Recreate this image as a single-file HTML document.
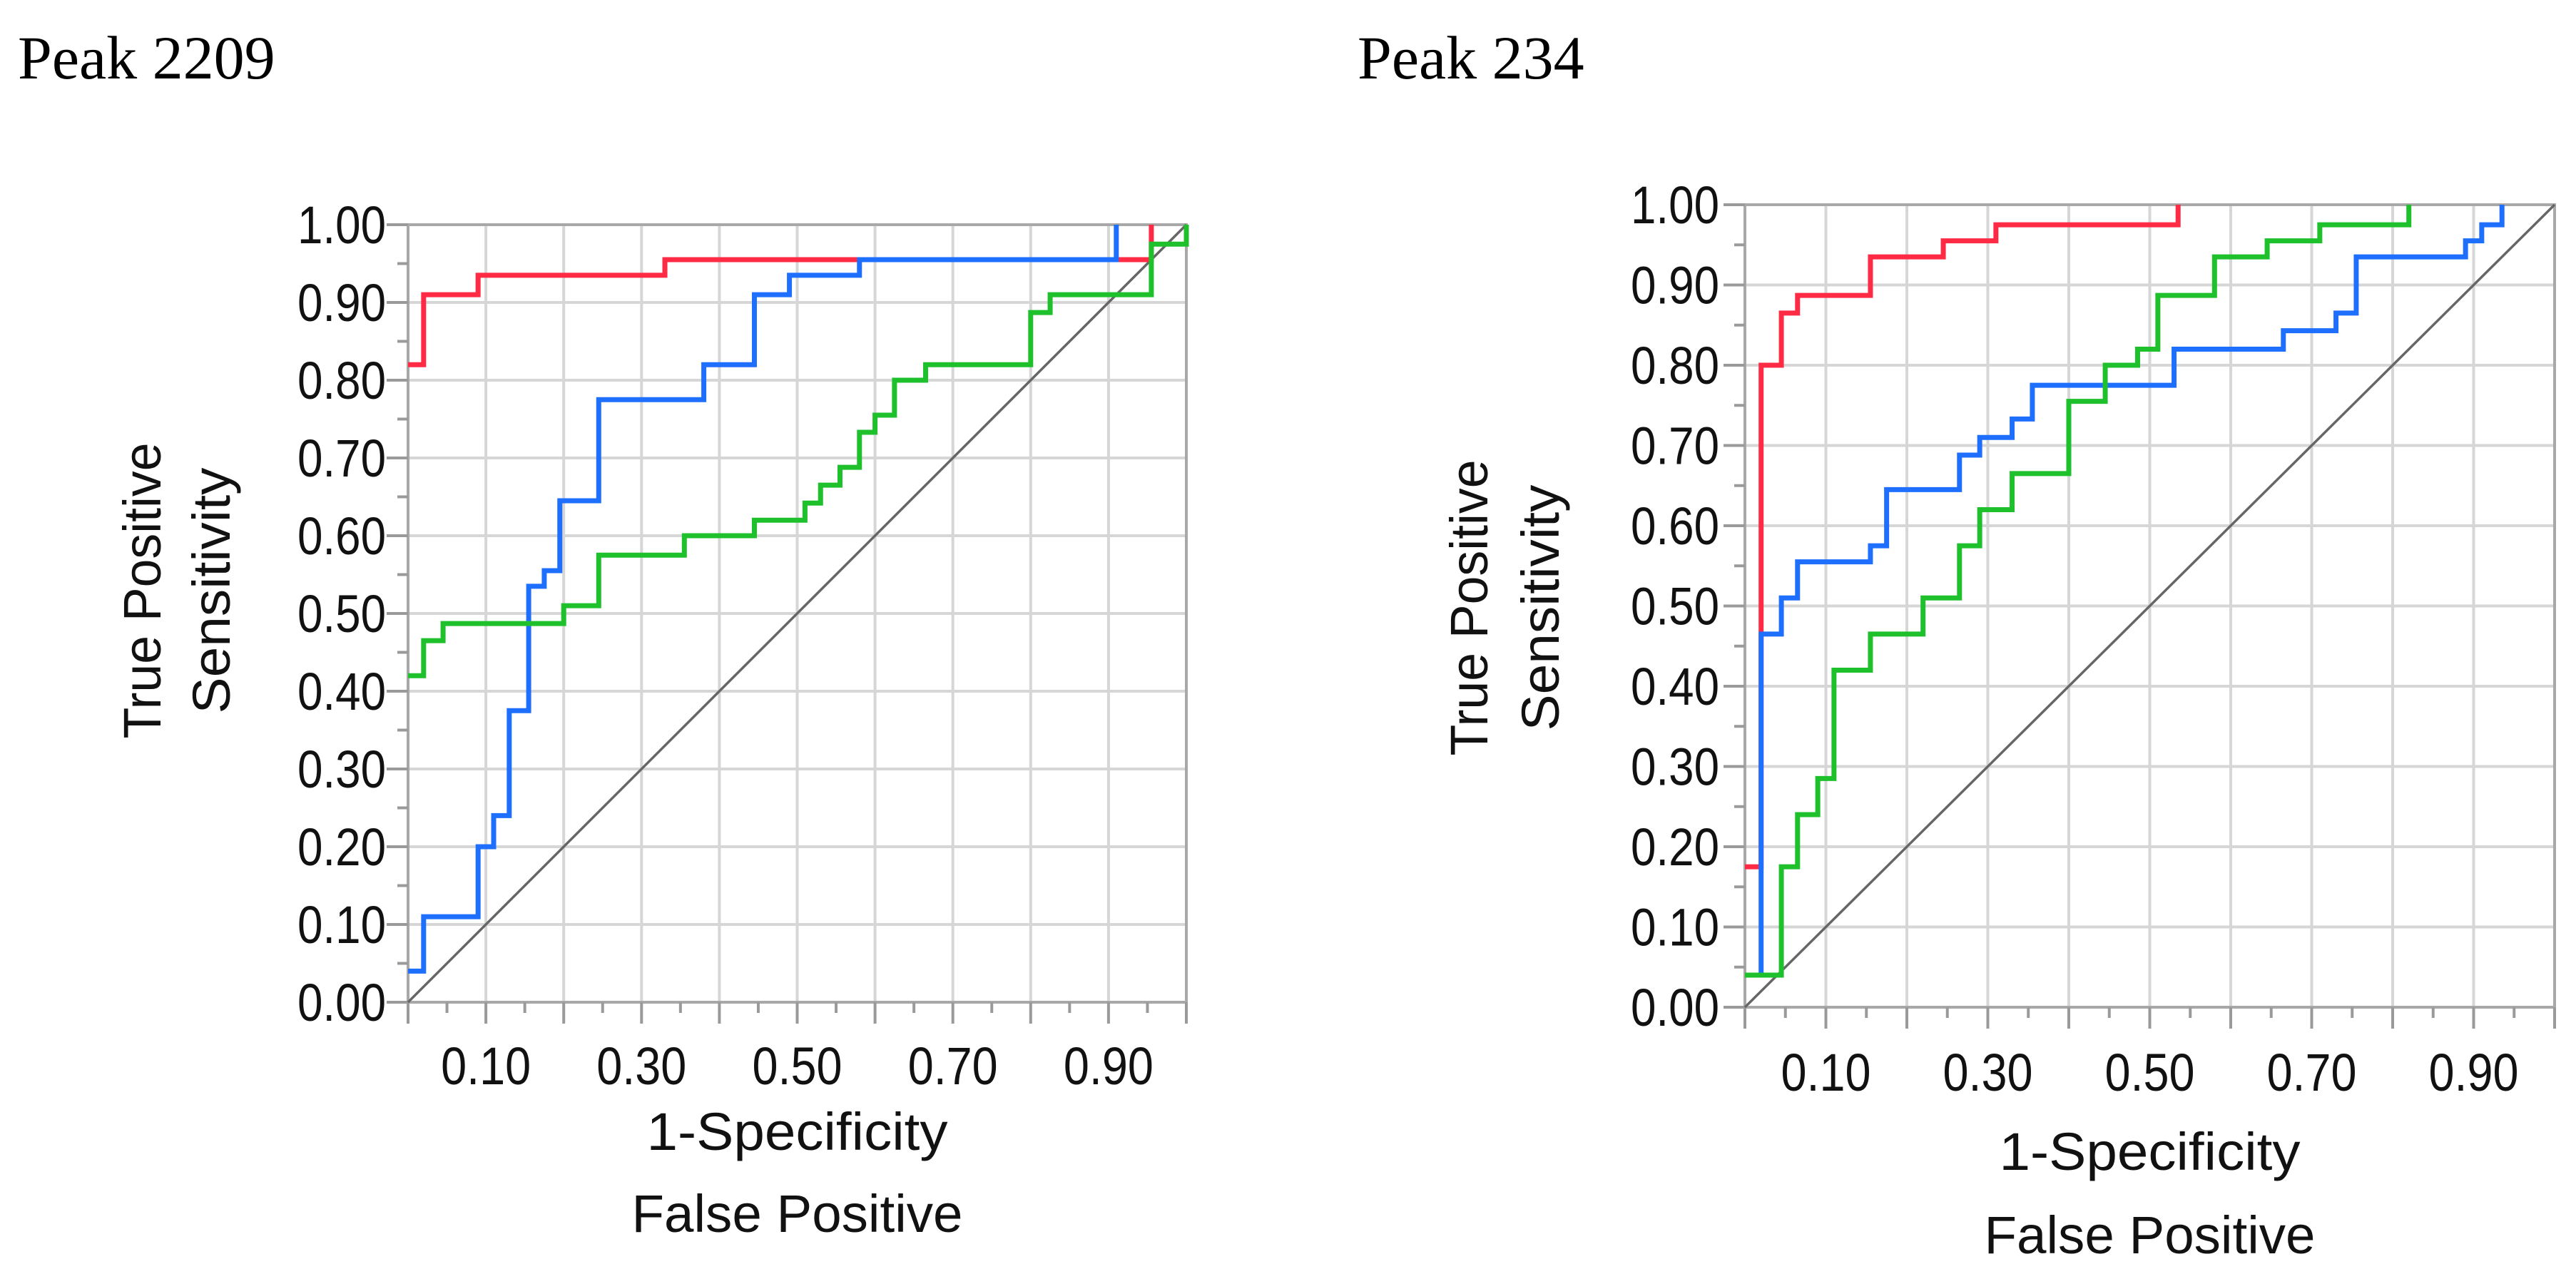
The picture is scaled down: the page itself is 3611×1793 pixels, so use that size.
<!DOCTYPE html>
<html><head><meta charset="utf-8">
<style>
html,body{margin:0;padding:0;background:#fff;}
svg{display:block;}
.t{font-family:"Liberation Sans",sans-serif;fill:#111;}
.pk{font-family:"Liberation Serif",serif;fill:#000;font-size:86px;}
</style></head>
<body>
<svg id="fig" width="3611" height="1793" viewBox="0 0 3611 1793" xmlns="http://www.w3.org/2000/svg">
<text class="pk" x="25" y="110">Peak 2209</text>
<text class="pk" x="1903" y="110">Peak 234</text>
<g id="c1"></g>
<g id="c2"></g>
</svg>
<script>
// Peak 2209 data
const p1RedStart = 0.82;
const p1RedX = [0.02, 0.09, 0.33, 0.955];
const p1RedY = [0.91, 0.935, 0.955, 1.0];
const p1BlueStart = 0.04;
const p1BlueX = [0.02, 0.09, 0.11, 0.13, 0.155, 0.175, 0.195, 0.245, 0.38, 0.445, 0.49, 0.58, 0.91];
const p1BlueY = [0.11, 0.20, 0.24, 0.375, 0.535, 0.555, 0.645, 0.775, 0.82, 0.91, 0.935, 0.955, 1.0];
const p1GreenStart = 0.42;
const p1GreenX = [0.02, 0.045, 0.2, 0.245, 0.355, 0.445, 0.51, 0.53, 0.555, 0.58, 0.6, 0.625, 0.665, 0.8, 0.825, 0.955, 1.0];
const p1GreenY = [0.465, 0.487, 0.51, 0.575, 0.6, 0.62, 0.642, 0.665, 0.688, 0.733, 0.755, 0.8, 0.82, 0.887, 0.91, 0.975, 1.0];
// Peak 234 data
const p2RedStart = 0.175;
const p2RedX = [0.02, 0.045, 0.065, 0.155, 0.245, 0.31, 0.535];
const p2RedY = [0.80, 0.865, 0.887, 0.935, 0.955, 0.975, 1.0];
const p2BlueStart = 0.04;
const p2BlueX = [0.02, 0.045, 0.065, 0.155, 0.175, 0.265, 0.29, 0.33, 0.355, 0.53, 0.665, 0.73, 0.755, 0.89, 0.91, 0.935];
const p2BlueY = [0.465, 0.51, 0.555, 0.575, 0.645, 0.688, 0.71, 0.733, 0.775, 0.82, 0.843, 0.865, 0.935, 0.955, 0.975, 1.0];
const p2GreenStart = 0.04;
const p2GreenX = [0.045, 0.065, 0.09, 0.11, 0.155, 0.22, 0.265, 0.29, 0.33, 0.4, 0.445, 0.485, 0.51, 0.58, 0.645, 0.71, 0.82];
const p2GreenY = [0.175, 0.24, 0.285, 0.42, 0.465, 0.51, 0.575, 0.62, 0.665, 0.755, 0.8, 0.82, 0.887, 0.935, 0.955, 0.975, 1.0];
// ticks
const yTickLabels = ["0.00","0.10","0.20","0.30","0.40","0.50","0.60","0.70","0.80","0.90","1.00"];
const xTickLabels = ["0.10","0.30","0.50","0.70","0.90"];
const xTickValues = [0.1,0.3,0.5,0.7,0.9];

const NS = "http://www.w3.org/2000/svg";
function mk(tag, attrs, parent){
  const e = document.createElementNS(NS, tag);
  for (const k in attrs) e.setAttribute(k, attrs[k]);
  parent.appendChild(e);
  return e;
}
function chart(g, L, R, T, B, series, labRight, xLabY, t1, t2, tt, ycx){
  const sx = v => L + v*(R-L);
  const sy = v => B - v*(B-T);
  for (let i=1;i<=10;i++){
    const gx = mk('line',{x1:sx(i/10),x2:sx(i/10),y1:T,y2:B,stroke:'#d6d6d6','stroke-width':4},g);
    
    
    const gy = mk('line',{x1:L,x2:R,y1:sy(i/10),y2:sy(i/10),stroke:'#d6d6d6','stroke-width':4},g);
    
    
  }
  const fr = mk('rect',{x:L,y:T,width:R-L,height:B-T,fill:'none',stroke:'#a8a8a8','stroke-width':4},g);
  
  
  for (let i=0;i<=20;i++){
    const v=i/20, major = i%2===0;
    const tx = mk('line',{x1:sx(v),x2:sx(v),y1:B,y2:B+(major?30:15),stroke:'#9a9a9a','stroke-width':4},g);
    
    
    const ty = mk('line',{x1:L,x2:L-(major?30:15),y1:sy(v),y2:sy(v),stroke:'#9a9a9a','stroke-width':4},g);
    
    
  }
  yTickLabels.forEach((s,i)=>{
    const t = mk('text',{x:labRight,y:sy(i/10)+26,'text-anchor':'end','font-size':74,textLength:124,lengthAdjust:'spacingAndGlyphs',class:'t'},g);
    t.textContent = s;
    
    
  });
  xTickLabels.forEach((s,i)=>{
    const t = mk('text',{x:sx(xTickValues[i])-63,y:xLabY,'font-size':74,textLength:126,lengthAdjust:'spacingAndGlyphs',class:'t'},g);
    t.textContent = s;
    
    
  });
  const d = mk('line',{x1:sx(0),y1:sy(0),x2:sx(1),y2:sy(1),stroke:'#666','stroke-width':3.5},g);
  
  
  series.forEach(s=>{
    let p = 'M'+sx(0)+' '+sy(s.start);
    for (let i=0;i<s.xs.length;i++){ p += ' H'+sx(s.xs[i])+' V'+sy(s.ys[i]); }
    if (s.ys[s.ys.length-1] < 1) p += ' H'+sx(1);
    const e = mk('path',{d:p,fill:'none',stroke:s.color,'stroke-width':7,'stroke-linejoin':'miter'},g);
    
    
  });
  const cx=(L+R)/2;
  const a = mk('text',{x:cx,y:t1,'text-anchor':'middle','font-size':74,textLength:422,lengthAdjust:'spacingAndGlyphs',class:'t'},g);
  a.textContent='1-Specificity';
  
  
  const b = mk('text',{x:cx,y:t2,'text-anchor':'middle','font-size':74,textLength:464,lengthAdjust:'spacingAndGlyphs',class:'t'},g);
  b.textContent='False Positive';
  
  
  const c = mk('text',{x:0,y:0,'text-anchor':'middle','font-size':74,textLength:415,lengthAdjust:'spacingAndGlyphs',class:'t',transform:'translate('+tt[0]+','+ycx+') rotate(-90)'},g);
  c.textContent='True Positive';
  
  
  const e2 = mk('text',{x:0,y:0,'text-anchor':'middle','font-size':74,textLength:345,lengthAdjust:'spacingAndGlyphs',class:'t',transform:'translate('+tt[1]+','+ycx+') rotate(-90)'},g);
  e2.textContent='Sensitivity';
  
  
}
const RED='#ff2b45', BLUE='#1f6fff', GREEN='#1ec02c';
chart(document.getElementById('c1'), 572, 1663, 315, 1405, [
  {name:'roc-curve-red',start:p1RedStart,xs:p1RedX,ys:p1RedY,color:RED},
  {name:'roc-curve-blue',start:p1BlueStart,xs:p1BlueX,ys:p1BlueY,color:BLUE},
  {name:'roc-curve-green',start:p1GreenStart,xs:p1GreenX,ys:p1GreenY,color:GREEN}
], 541, 1520, 1612, 1727, [225, 322], 828);
chart(document.getElementById('c2'), 2446, 3581, 287, 1412, [
  {name:'roc-curve-red',start:p2RedStart,xs:p2RedX,ys:p2RedY,color:RED},
  {name:'roc-curve-blue',start:p2BlueStart,xs:p2BlueX,ys:p2BlueY,color:BLUE},
  {name:'roc-curve-green',start:p2GreenStart,xs:p2GreenX,ys:p2GreenY,color:GREEN}
], 2410, 1529, 1640, 1757, [2085, 2185], 852);
</script>
</body></html>
